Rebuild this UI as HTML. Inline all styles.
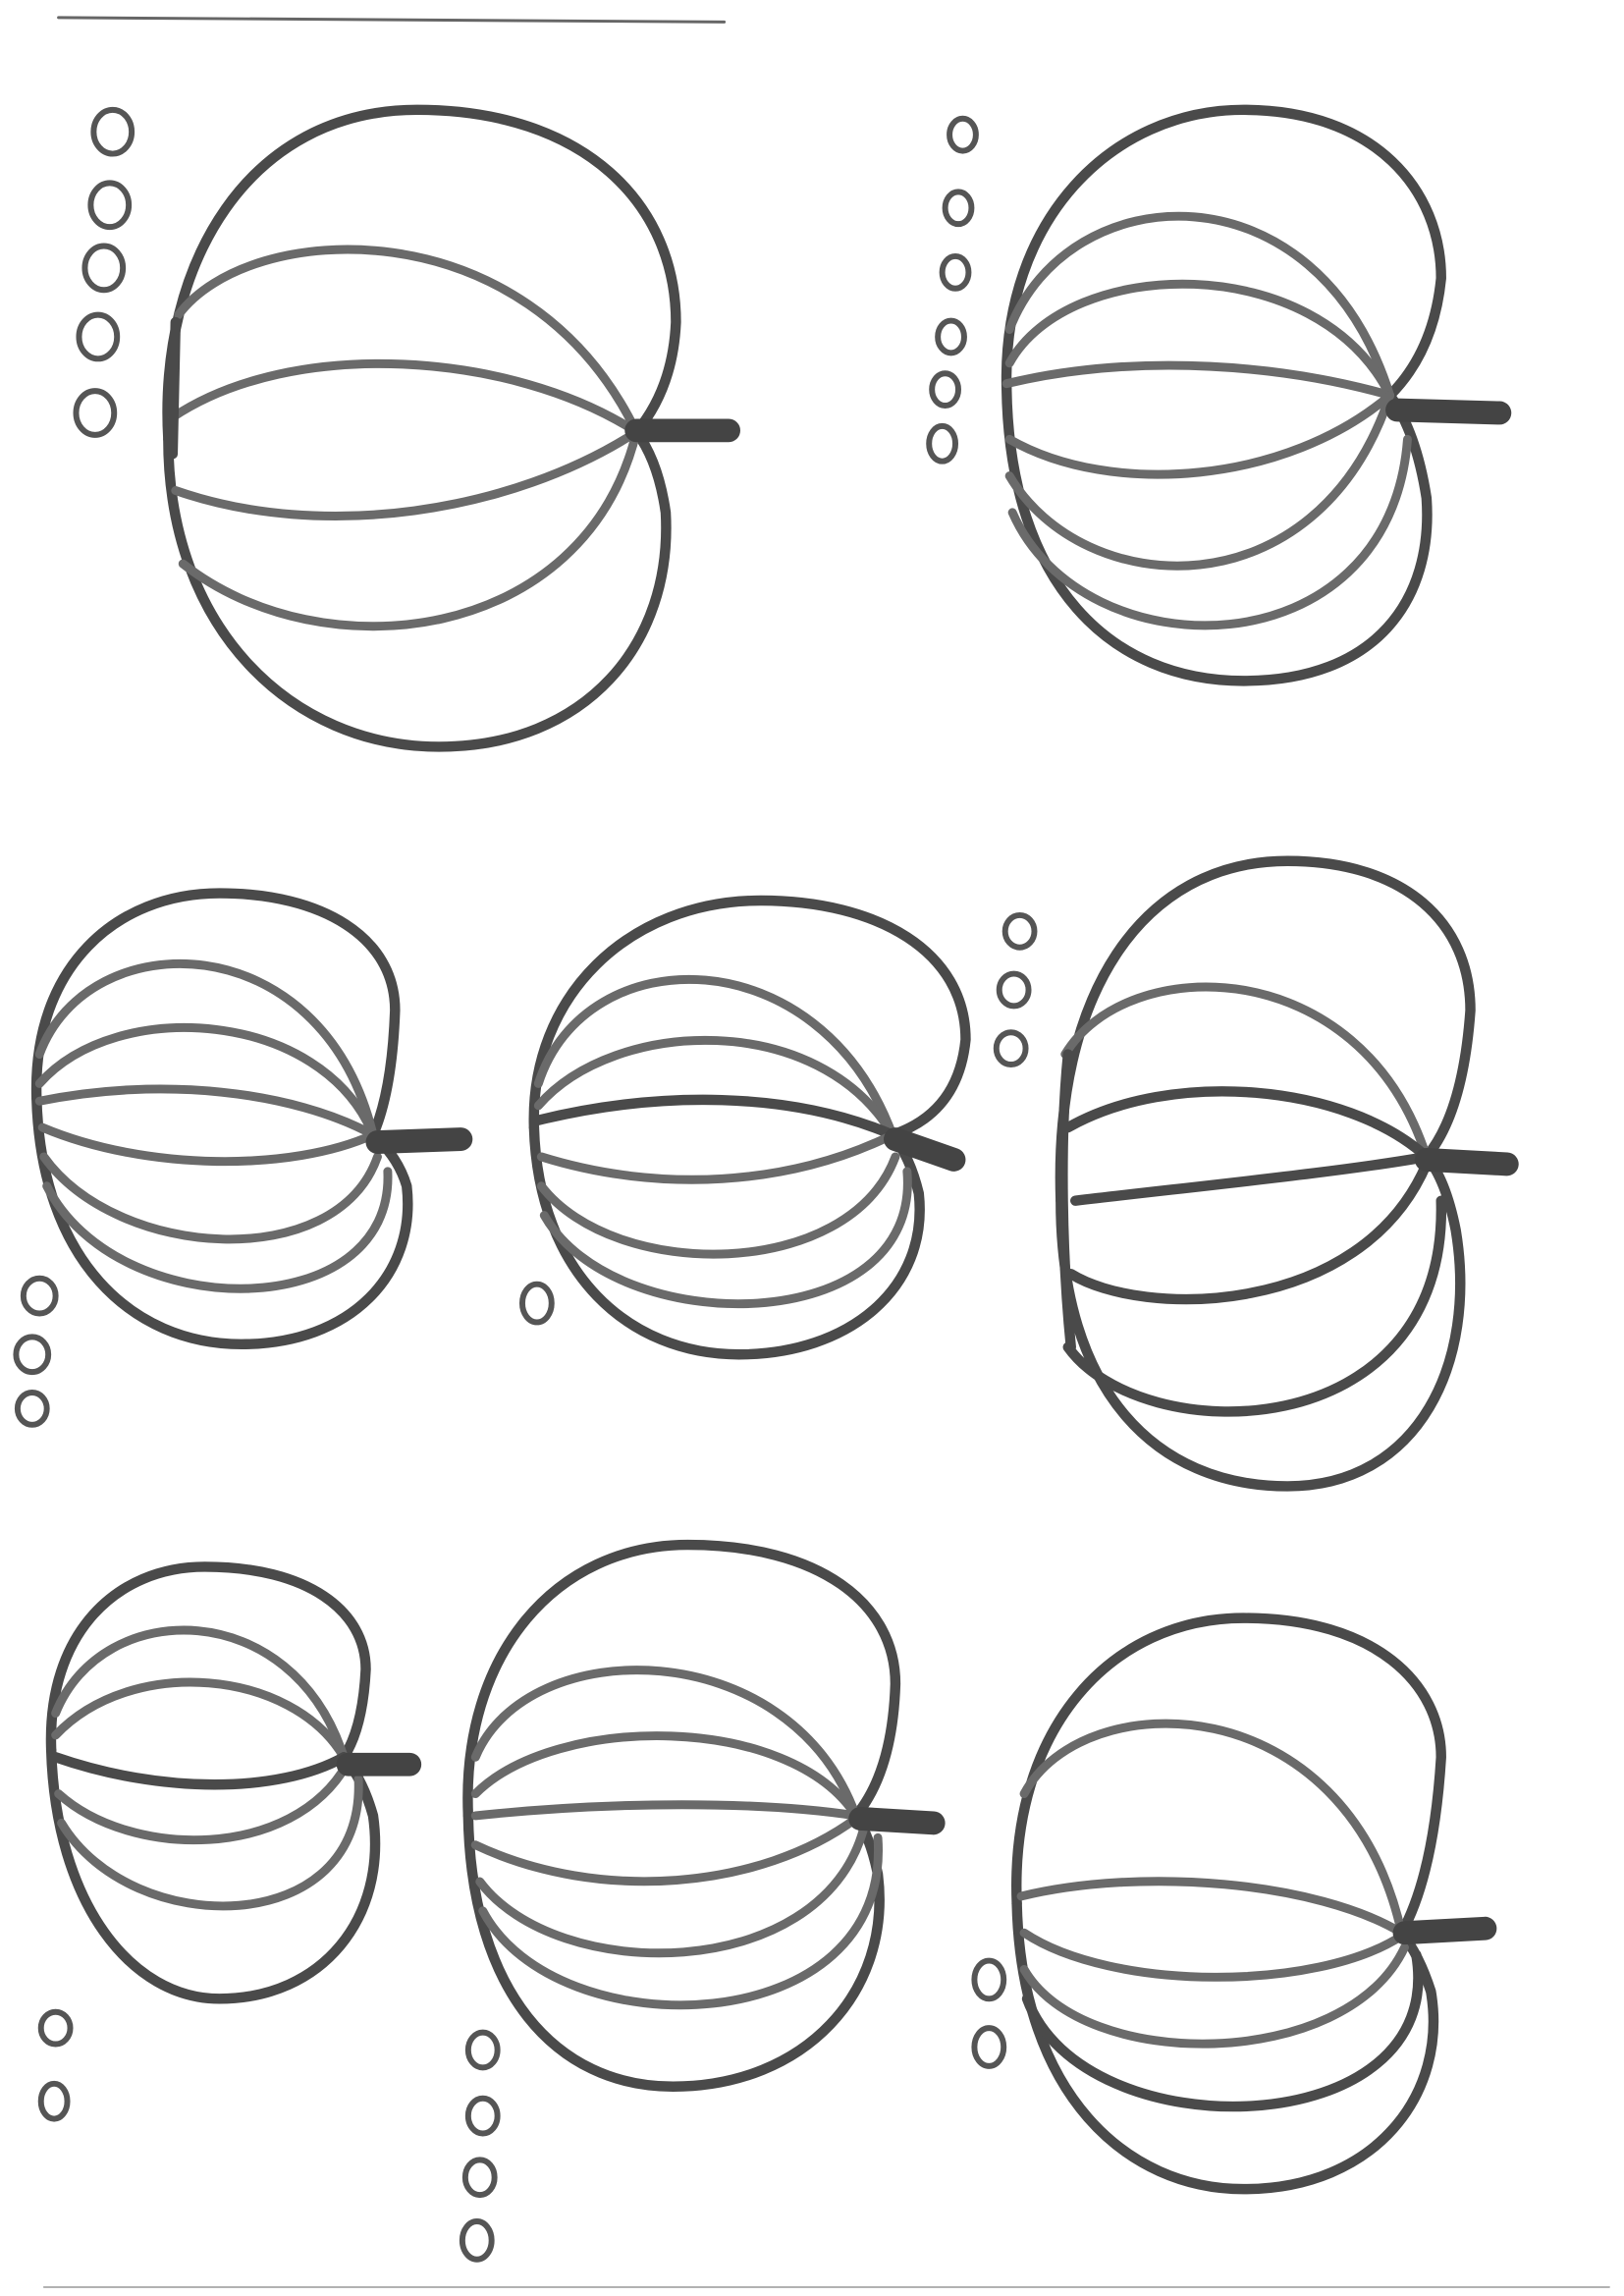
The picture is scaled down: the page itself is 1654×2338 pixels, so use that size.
<!DOCTYPE html>
<html><head><meta charset="utf-8"><style>
html,body{margin:0;padding:0;background:#fff;width:1654px;height:2338px;overflow:hidden}
svg{display:block}
path,ellipse,line{fill:none;stroke:#5a5a5a;stroke-linecap:round;stroke-linejoin:round}
.o{stroke-width:7;stroke:#4a4a4a}
.r{stroke-width:6;stroke:#6a6a6a}
.s{stroke-width:16;stroke:#444}
.c{stroke-width:4;stroke:#555}
</style></head><body>
<svg width="1654" height="2338" viewBox="0 0 1110 1568" preserveAspectRatio="none">
<line x1="40" y1="12" x2="495" y2="15" style="stroke:#666;stroke-width:2"/>
<!-- P1 -->
<g>
<path class="o" d="M115,300 C108,180 170,75 285,75 C400,75 462,140 462,220 Q460,265 435,295"/>
<path class="o" d="M115,300 C115,430 200,510 300,510 C400,510 460,440 455,350 Q450,315 435,295"/>
<path class="r" d="M122,215 C170,150 360,140 435,295"/>
<path class="r" d="M118,285 C200,230 350,240 435,295"/>
<path class="r" d="M120,335 C220,370 350,350 435,295"/>
<path class="r" d="M125,385 C220,460 400,440 435,295"/>
<path class="o" d="M120,220 L118,310"/>
<path class="s" d="M435,294 L498,294"/>
<ellipse class="c" cx="77" cy="90" rx="13" ry="15"/><ellipse class="c" cx="75" cy="140" rx="13" ry="15"/><ellipse class="c" cx="71" cy="183" rx="13" ry="15"/><ellipse class="c" cx="67" cy="230" rx="13" ry="15"/><ellipse class="c" cx="65" cy="282" rx="13" ry="15"/>
</g>
<!-- P2 -->
<g>
<path class="o" d="M688,265 C685,150 760,75 850,75 C940,75 985,130 985,190 Q980,240 950,270"/>
<path class="o" d="M688,265 C690,400 760,465 850,465 C940,465 980,410 975,340 Q968,295 950,270"/>
<path class="r" d="M690,225 C730,120 900,110 950,270"/>
<path class="r" d="M690,248 C730,175 900,170 950,270"/>
<path class="r" d="M688,262 C780,240 880,250 950,270"/>
<path class="r" d="M690,300 C760,340 880,330 950,270"/>
<path class="r" d="M690,325 C740,410 900,420 950,270"/>
<path class="r" d="M692,350 C740,460 950,460 962,300"/>
<path class="s" d="M955,280 L1025,282"/>
<ellipse class="c" cx="658" cy="92" rx="9" ry="11"/><ellipse class="c" cx="655" cy="142" rx="9" ry="11"/><ellipse class="c" cx="653" cy="186" rx="9" ry="11"/><ellipse class="c" cx="650" cy="230" rx="9" ry="11"/><ellipse class="c" cx="646" cy="266" rx="9" ry="11"/><ellipse class="c" cx="644" cy="303" rx="9" ry="12"/>
</g>
<!-- P3 -->
<g>
<path class="o" d="M25,750 C22,660 80,610 150,610 C220,610 270,640 270,690 Q268,745 255,775"/>
<path class="o" d="M25,750 C28,860 90,918 165,918 C240,918 285,870 278,810 Q272,790 255,775"/>
<path class="r" d="M27,720 C60,630 220,630 255,775"/>
<path class="r" d="M27,740 C80,680 220,690 255,775"/>
<path class="r" d="M27,752 C110,735 200,745 255,775"/>
<path class="r" d="M29,770 C100,800 200,800 255,775"/>
<path class="r" d="M30,790 C80,860 230,870 258,790"/>
<path class="r" d="M32,810 C80,905 270,905 265,800"/>
<path class="s" d="M258,780 L315,778"/>
<ellipse class="c" cx="27" cy="885" rx="11" ry="12"/><ellipse class="c" cx="22" cy="925" rx="11" ry="12"/><ellipse class="c" cx="22" cy="962" rx="10" ry="11"/>
</g>
<!-- P4 -->
<g>
<path class="o" d="M365,770 C362,680 430,615 520,615 C600,615 660,650 660,710 Q655,760 610,775"/>
<path class="o" d="M365,770 C368,870 430,925 505,925 C580,925 635,880 628,815 Q622,790 610,775"/>
<path class="r" d="M368,740 C400,640 560,640 610,775"/>
<path class="r" d="M368,755 C420,695 560,690 610,775"/>
<path class="o" d="M368,765 C450,745 540,745 610,775"/>
<path class="r" d="M370,790 C450,815 540,810 610,775"/>
<path class="r" d="M370,810 C420,875 580,875 612,790"/>
<path class="r" d="M372,830 C420,915 630,915 620,800"/>
<path class="s" d="M612,778 L652,792"/>
<ellipse class="c" cx="367" cy="890" rx="10" ry="13"/>
</g>
<!-- P5 -->
<g>
<path class="o" d="M725,820 C720,680 780,588 880,588 C960,588 1005,630 1005,690 Q1000,760 975,790"/>
<path class="o" d="M725,820 C725,950 790,1015 880,1015 C970,1015 1010,930 995,840 Q988,805 975,790"/>
<path class="r" d="M728,720 C770,650 930,650 975,790"/>
<path class="o" d="M730,770 C800,730 920,740 975,790"/>
<path class="o" d="M735,820 C820,810 920,800 975,790"/>
<path class="o" d="M732,870 C780,900 930,900 975,795"/>
<path class="o" d="M730,920 C780,990 990,990 985,820"/>
<path class="o" d="M730,720 C724,780 726,860 732,920"/>
<path class="s" d="M975,792 L1030,795"/>
<ellipse class="c" cx="697" cy="636" rx="10" ry="11"/><ellipse class="c" cx="693" cy="676" rx="10" ry="11"/><ellipse class="c" cx="691" cy="716" rx="10" ry="11"/>
</g>
<!-- P6 -->
<g>
<path class="o" d="M35,1195 C32,1115 80,1070 140,1070 C210,1070 250,1100 250,1140 Q248,1180 235,1200"/>
<path class="o" d="M35,1195 C38,1300 90,1365 150,1365 C220,1365 265,1310 255,1240 Q248,1215 235,1200"/>
<path class="r" d="M38,1170 C70,1090 200,1090 235,1200"/>
<path class="r" d="M38,1185 C90,1130 200,1140 235,1200"/>
<path class="o" d="M38,1200 C110,1225 190,1225 235,1200"/>
<path class="r" d="M40,1225 C90,1270 200,1270 237,1205"/>
<path class="r" d="M42,1245 C90,1325 250,1325 245,1215"/>
<path class="s" d="M238,1205 L280,1205"/>
<ellipse class="c" cx="38" cy="1385" rx="10" ry="11"/><ellipse class="c" cx="37" cy="1435" rx="9" ry="12"/>
</g>
<!-- P7 -->
<g>
<path class="o" d="M320,1240 C315,1130 380,1055 470,1055 C560,1055 612,1095 612,1150 Q610,1210 585,1240"/>
<path class="o" d="M320,1240 C322,1360 380,1425 460,1425 C550,1425 610,1360 600,1280 Q595,1255 585,1240"/>
<path class="r" d="M325,1200 C360,1115 540,1115 585,1240"/>
<path class="r" d="M325,1225 C380,1170 540,1170 585,1240"/>
<path class="r" d="M325,1240 C420,1230 520,1230 585,1240"/>
<path class="r" d="M325,1260 C410,1300 520,1290 585,1242"/>
<path class="r" d="M328,1285 C380,1355 560,1355 590,1250"/>
<path class="r" d="M330,1305 C380,1400 610,1395 600,1255"/>
<path class="s" d="M588,1242 L638,1245"/>
<ellipse class="c" cx="330" cy="1400" rx="10" ry="12"/><ellipse class="c" cx="330" cy="1445" rx="10" ry="12"/><ellipse class="c" cx="328" cy="1487" rx="10" ry="12"/><ellipse class="c" cx="326" cy="1530" rx="10" ry="13"/>
</g>
<!-- P8 -->
<g>
<path class="o" d="M695,1300 C690,1180 760,1105 850,1105 C940,1105 985,1150 985,1200 Q980,1280 958,1320"/>
<path class="o" d="M695,1300 C698,1430 770,1495 850,1495 C940,1495 990,1430 978,1360 Q970,1335 958,1320"/>
<path class="r" d="M700,1225 C740,1150 920,1150 958,1320"/>
<path class="r" d="M698,1295 C780,1275 900,1285 958,1320"/>
<path class="r" d="M700,1320 C760,1360 900,1360 958,1322"/>
<path class="r" d="M700,1345 C740,1415 920,1415 960,1330"/>
<path class="o" d="M702,1365 C740,1470 990,1465 968,1335"/>
<path class="s" d="M960,1320 L1015,1317"/>
<ellipse class="c" cx="676" cy="1352" rx="10" ry="13"/><ellipse class="c" cx="676" cy="1398" rx="10" ry="13"/>
</g>
<line x1="30" y1="1562" x2="1100" y2="1562" style="stroke:#999;stroke-width:1"/>
</svg>
</body></html>
